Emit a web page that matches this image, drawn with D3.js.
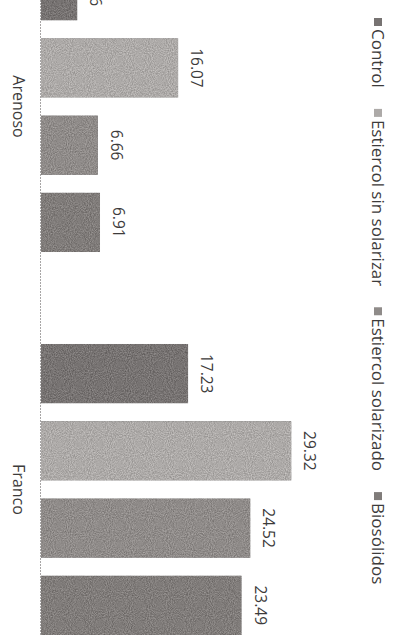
<!DOCTYPE html>
<html>
<head>
<meta charset="utf-8">
<script src="https://cdn.jsdelivr.net/npm/d3@7"></script>
<style>
  body { margin: 0; background: #fff; }
  text { font-family: "Open Sans", sans-serif; fill: #3d3b3b; }
</style>
</head>
<body>
<svg id="chart" width="394" height="635"></svg>
<script>
// chart data (page is scanned rotated 90deg, so bars run left->right)
var categories = ["Arenoso", "Franco"];
var series = ["Control", "Estiercol sin solarizar", "Estiercol solarizado", "Biosólidos"];
var arenoso = [4.26, 16.07, 6.66, 6.91];
var franco = [17.23, 29.32, 24.52, 23.49];
var colors = ["#777372", "#adaaa8", "#8f8b89", "#807c7a"];

var values = { "Arenoso": arenoso, "Franco": franco };

var svg = d3.select("#chart");
var W = 394, H = 635;

// grainy scan look, noise centred so it doesnt darken the fill
var defs = svg.append("defs");
var f = defs.append("filter").attr("id", "grain")
  .attr("x", 0).attr("y", 0).attr("width", 1).attr("height", 1)
  .attr("color-interpolation-filters", "sRGB");
f.append("feTurbulence").attr("type", "fractalNoise").attr("baseFrequency", 0.95).attr("numOctaves", 2).attr("seed", 3).attr("result", "noise");
f.append("feColorMatrix").attr("in", "noise").attr("type", "matrix")
  .attr("values", "1 0 0 0 0  1 0 0 0 0  1 0 0 0 0  0 0 0 0 1").attr("result", "gray");
f.append("feComposite").attr("in", "SourceGraphic").attr("in2", "gray").attr("operator", "arithmetic")
  .attr("k1", 0).attr("k2", 1).attr("k3", 0.3).attr("k4", -0.15).attr("result", "mix");
f.append("feComposite").attr("in", "mix").attr("in2", "SourceGraphic").attr("operator", "in");

var x = d3.scaleLinear().domain([0, 35]).range([41, 340]);
var y0 = d3.scaleBand().domain(categories).range([-39, H]).paddingInner(0.24).paddingOuter(0);
var y1 = d3.scaleBand().domain(series).range([0, y0.bandwidth()]).paddingInner(0.23);
var color = d3.scaleOrdinal().domain(series).range(colors);

var groups = svg.selectAll("g.cat")
  .data(categories)
  .enter().append("g")
  .attr("class", "cat")
  .attr("transform", function(c){ return "translate(0," + y0(c) + ")"; });

groups.selectAll("rect")
  .data(function(c){ return values[c].map(function(v, i){ return { s: series[i], v: v }; }); })
  .enter().append("rect")
  .attr("x", x(0))
  .attr("y", function(d){ return y1(d.s); })
  .attr("width", function(d){ return x(d.v) - x(0); })
  .attr("height", y1.bandwidth())
  .attr("fill", function(d){ return color(d.s); })
  .attr("filter", "url(#grain)");

groups.selectAll("text.val")
  .data(function(c){ return values[c].map(function(v, i){ return { s: series[i], v: v }; }); })
  .enter().append("text")
  .attr("class", "val")
  .attr("transform", function(d){
    return "translate(" + (x(d.v) + 19) + "," + (y1(d.s) + y1.bandwidth() / 2) + ") rotate(90)";
  })
  .attr("text-anchor", "middle")
  .attr("dominant-baseline", "central")
  .style("font-size", "15.5px")
  .text(function(d){ return d3.format(".2f")(d.v); });

// category axis (baseline)
svg.append("line")
  .attr("x1", x(0) - 0.5).attr("x2", x(0) - 0.5)
  .attr("y1", 0).attr("y2", H)
  .attr("stroke", "#a8a6a6")
  .attr("stroke-width", 1)
  .attr("stroke-dasharray", "2,1");

svg.selectAll("text.cat")
  .data(categories)
  .enter().append("text")
  .attr("class", "cat")
  .attr("transform", function(c){ return "translate(19," + (y0(c) + y0.bandwidth() / 2) + ") rotate(90)"; })
  .attr("text-anchor", "middle")
  .attr("dominant-baseline", "central")
  .style("font-size", "16px")
  .text(function(c){ return c; });

// legend, flowing top to bottom
var legend = svg.append("g").attr("transform", "translate(378,18) rotate(90)");
var pos = 0;
series.forEach(function(s){
  var item = legend.append("g").attr("transform", "translate(" + pos + ",0)");
  item.append("rect")
    .attr("x", 0).attr("y", -4)
    .attr("width", 8).attr("height", 8)
    .attr("fill", color(s));
  var t = item.append("text")
    .attr("x", 11)
    .attr("dominant-baseline", "central")
    .style("font-size", "17px")
    .text(s);
  pos += 11 + t.node().getComputedTextLength() + 21;
});
</script>
</body>
</html>
